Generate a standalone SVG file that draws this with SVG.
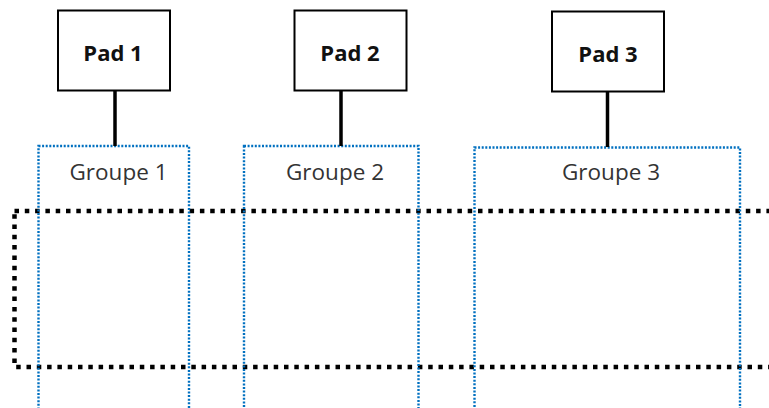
<svg xmlns="http://www.w3.org/2000/svg" width="769" height="408" viewBox="0 0 769 408">
<style>
.pad{fill:#fff;stroke:#000;stroke-width:2}
.padt{font-family:"Open Sans",sans-serif;font-weight:bold;font-size:22px;fill:#111;text-anchor:middle}
.grp{fill:none;stroke:#0070C0;stroke-width:2.4;stroke-dasharray:2 1.6}
.grpt{font-family:"Open Sans",sans-serif;font-size:22.5px;fill:#333;text-anchor:middle}
.zone{fill:none;stroke:#000;stroke-width:4.5;stroke-dasharray:4.5 5.8}
.conn{stroke:#000;stroke-width:3.5}
</style>
<rect width="769" height="408" fill="#fff"/>
<g id="zone"><rect class="zone" x="14.5" y="211" width="780" height="156"/></g>
<g id="groupe1"><rect class="grp" x="38.5" y="146" width="150.5" height="280"/><text class="grpt" x="118.5" y="180">Groupe 1</text></g>
<g id="groupe2"><rect class="grp" x="244" y="146" width="174.5" height="280"/><text class="grpt" x="335" y="180">Groupe 2</text></g>
<g id="groupe3"><rect class="grp" x="474.5" y="147.5" width="265.5" height="280"/><text class="grpt" x="611" y="180">Groupe 3</text></g>
<g id="connectors">
<line class="conn" x1="115" y1="91" x2="115" y2="146"/>
<line class="conn" x1="341" y1="91" x2="341" y2="146"/>
<line class="conn" x1="607.5" y1="92" x2="607.5" y2="147"/>
</g>
<g id="pad1"><rect class="pad" x="58" y="10.5" width="112" height="80"/><text class="padt" x="113" y="60.5">Pad 1</text></g>
<g id="pad2"><rect class="pad" x="294.5" y="10.5" width="112" height="80"/><text class="padt" x="350" y="60.5">Pad 2</text></g>
<g id="pad3"><rect class="pad" x="552" y="11.5" width="112" height="80"/><text class="padt" x="608" y="61.5">Pad 3</text></g>
</svg>
